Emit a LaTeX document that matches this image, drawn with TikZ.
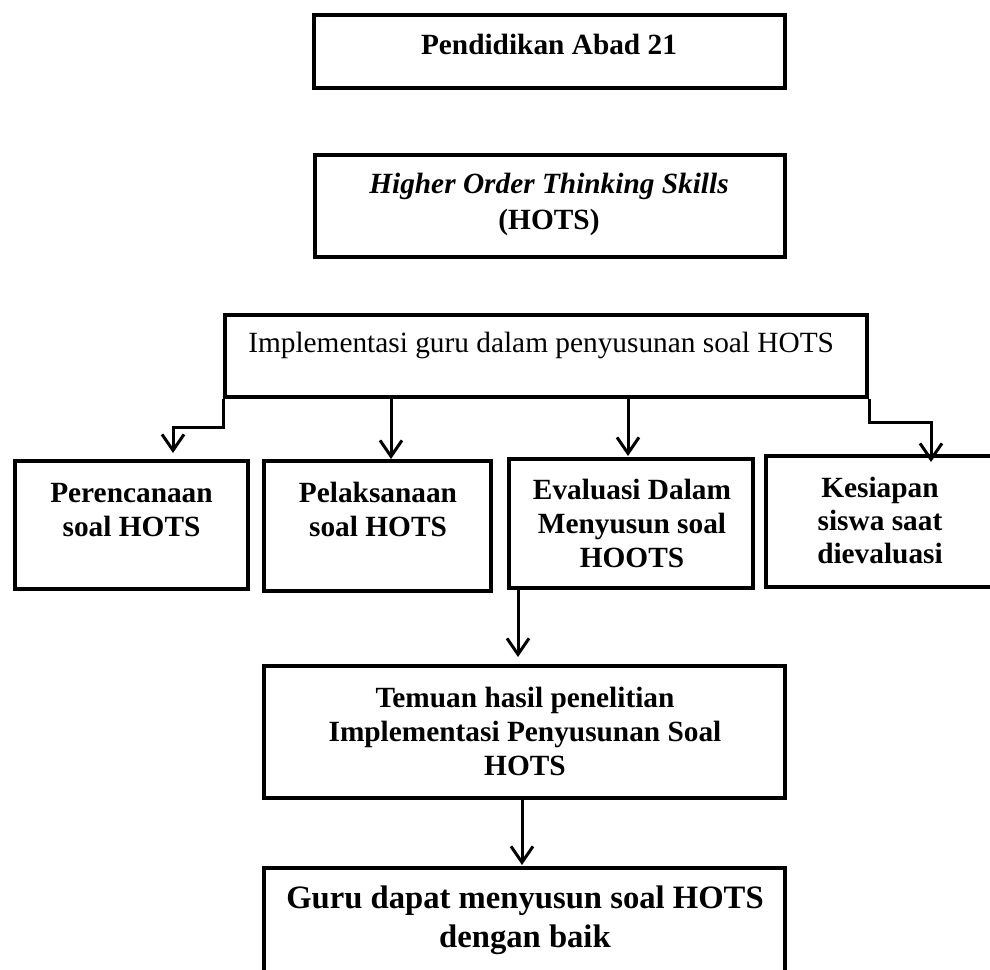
\documentclass[tikz,border=0pt]{standalone}
\usepackage{fontspec}
\setmainfont{Liberation Serif}
\usetikzlibrary{arrows.meta}
\begin{document}
\begin{tikzpicture}[x=0.75pt,y=-0.75pt,
  box/.style args={#1/#2}{draw, line width=3pt, minimum width=#1*0.75pt, minimum height=#2*0.75pt, inner sep=0pt},
  txt/.style={anchor=base, align=center, font=\fontsize{22pt}{25.5pt}\selectfont\bfseries, inner sep=0pt},
  arr/.style={line width=2.25pt, -{Straight Barb[length=12pt,width=16.5pt]}}]
\useasboundingbox (0,0) rectangle (990,970);
% boxes
\node[box=471/73]  (b1) at (549.5,51.5) {};
\node[box=470/102] (b2) at (550,206) {};
\node[box=642/82]  (b3) at (546,356) {};
\node[box=233/128] (b4) at (131.5,525) {};
\node[box=227/130] (b5) at (377.5,526) {};
\node[box=244/129] (b6) at (631,523.5) {};
\node[box=228/131] (b7) at (880,521.5) {};
\node[box=521/132] (b8) at (524.5,732) {};
\node[box=521/124] (b9) at (524.5,930) {};
% texts (base anchor = baseline of last line)
\node[txt] (l1) at (549,55) {Pendidikan Abad 21};
\node[txt, font=\fontsize{22pt}{27pt}\selectfont\bfseries] (l2) at (549,230) {\textit{Higher Order Thinking Skills}\\(HOTS)};
\node[txt, anchor=base west, font=\fontsize{22pt}{26pt}\selectfont] (l3) at (248,353) {Implementasi guru dalam penyusunan soal HOTS};
\node[txt] (l4) at (131.5,536) {Perencanaan\\soal HOTS};
\node[txt] (l5) at (378,536) {Pelaksanaan\\soal HOTS};
\node[txt] (l6) at (632,567) {Evaluasi Dalam\\Menyusun soal\\HOOTS};
\node[txt, font=\fontsize{22pt}{24.75pt}\selectfont\bfseries] (l7) at (880,563) {Kesiapan\\siswa saat\\dievaluasi};
\node[txt] (l8) at (525,775) {Temuan hasil penelitian\\Implementasi Penyusunan Soal\\HOTS};
\node[txt, font=\fontsize{24.5pt}{29.25pt}\selectfont\bfseries] (l9) at (525,947) {Guru dapat menyusun soal HOTS\\dengan baik};
% connector coordinates
\coordinate (k1) at (173,427);
\coordinate (p1) at (173,453);
\coordinate (p2) at (391,459);
\coordinate (p3) at (628,456);
\coordinate (k4) at (931,422);
\coordinate (p4) at (931,462);
\coordinate (p5) at (518,657);
\coordinate (p6) at (522,865);
% connectors
\draw[arr] (b3.south west) |- (k1) -- (p1);
\draw[arr] (b3.south -| p2) -- (p2);
\draw[arr] (b3.south -| p3) -- (p3);
\draw[arr] (b3.south east) |- (k4) -- (p4);
\draw[arr] (b6.south -| p5) -- (p5);
\draw[arr] (b8.south -| p6) -- (p6);
\end{tikzpicture}
\end{document}
